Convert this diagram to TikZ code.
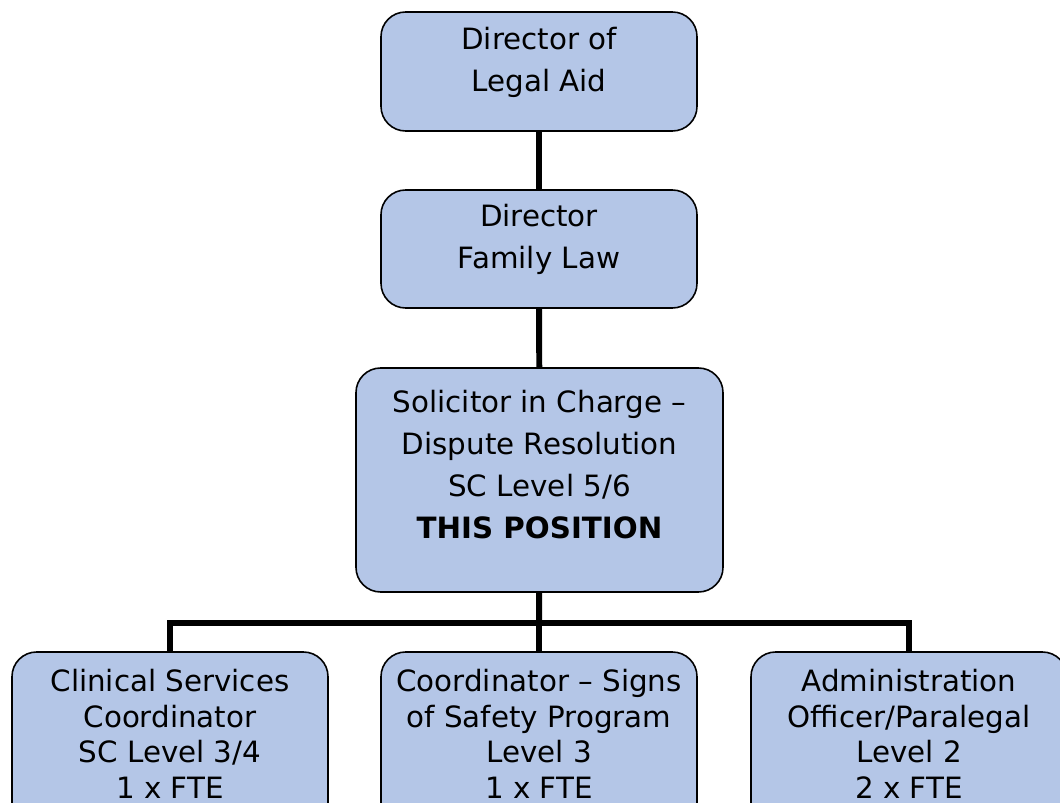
\documentclass[tikz,border=0pt]{standalone}
\usepackage{fontspec}
\setmainfont{DejaVu Sans}
\begin{document}
\begin{tikzpicture}[x=0.02cm,y=-0.02cm,
    box/.style={draw,line width=0.9pt,fill=boxblue,rounded corners=14pt,
      align=center,inner sep=0pt,font=\fontsize{16.7}{24}\selectfont},
    low/.style={box,font=\fontsize{16.7}{20.2}\selectfont},
    lift/.style={text depth=#1},
    link/.style={line width=3.4pt}]
    \definecolor{boxblue}{HTML}{B4C6E7}
    \useasboundingbox (0,0) rectangle (1060,803);
    \clip (0,0) rectangle (1060,803);

    \node (dla) at (539,71.5) [box,lift=14pt,minimum width=316*0.02cm,minimum height=119*0.02cm]
      {Director of\\Legal Aid};
    \node (dfl) at (539,249) [box,lift=14pt,minimum width=316*0.02cm,minimum height=118*0.02cm]
      {Director\\Family Law};
    \node (sic) at (539.5,480) [box,lift=17.6pt,minimum width=367*0.02cm,minimum height=224*0.02cm]
      {Solicitor in Charge --\\Dispute Resolution\\SC Level 5/6\\\textbf{THIS POSITION}};
    \node (csc) at (170,741) [low,lift=8pt,minimum width=316*0.02cm,minimum height=178*0.02cm]
      {Clinical Services\\Coordinator\\SC Level 3/4\\1 x FTE};
    \node (sos) at (539,741) [low,lift=8pt,minimum width=316*0.02cm,minimum height=178*0.02cm]
      {Coordinator -- Signs\\of Safety Program\\Level 3\\1 x FTE};
    \node (aop) at (909,741) [low,lift=8pt,minimum width=316*0.02cm,minimum height=178*0.02cm]
      {Administration\\Officer/Paralegal\\Level 2\\2 x FTE};

    \draw[link] (dla) -- (dfl);
    \draw[link] (dfl) -- (sic);
    \coordinate (bus) at (539,623);
    \draw[link] (sic) -- (bus);
    \foreach \n in {csc,sos,aop} {
      \draw[link] (bus) -| (\n);
    }
\end{tikzpicture}
\end{document}
